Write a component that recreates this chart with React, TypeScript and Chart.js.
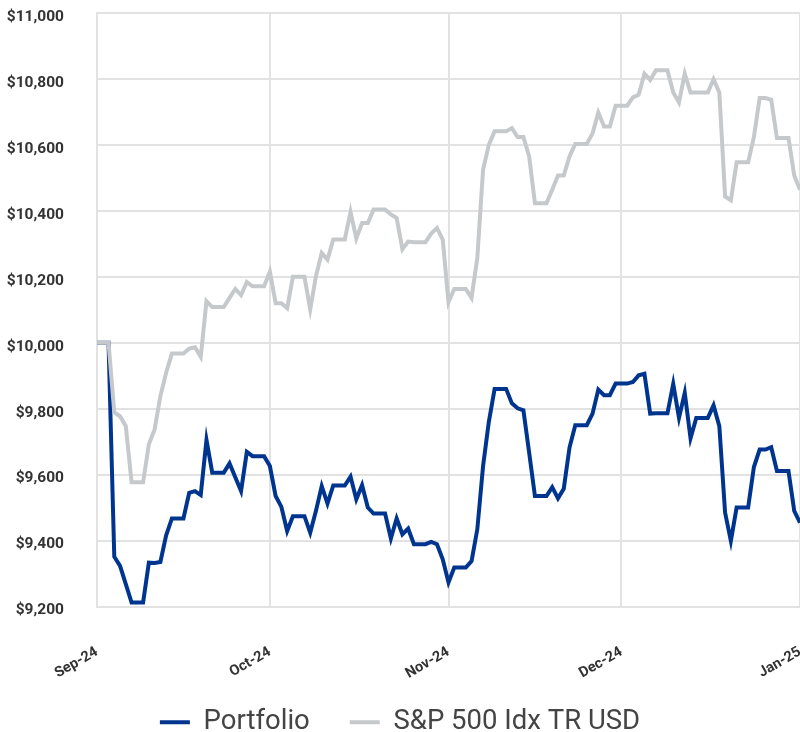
import React, { useEffect, useRef } from 'react';
import { Chart, registerables } from 'chart.js';

Chart.register(...registerables);

// Day index 0 = 31 Aug 2024, one value per calendar day up to 31 Dec 2024 (index 122)
const tickDays = [0, 30, 61, 91, 122];
const tickLabels = ['Sep-24', 'Oct-24', 'Nov-24', 'Dec-24', 'Jan-25'];
const yTicks = [9200, 9400, 9600, 9800, 10000, 10200, 10400, 10600, 10800, 11000];
const seriesNames = ['Portfolio', 'S&P 500 Idx TR USD'];

const portfolio = [
  10000, 10000, 10000, 9351, 9323, 9268, 9212, 9212, 9212, 9333,
  9332, 9335, 9416, 9467, 9467, 9467, 9545, 9550, 9538, 9705,
  9606, 9606, 9606, 9634, 9592, 9550, 9669, 9656, 9656, 9656,
  9626, 9535, 9502, 9429, 9474, 9474, 9474, 9424, 9490, 9565,
  9512, 9567, 9567, 9567, 9594, 9525, 9568, 9500, 9482, 9482,
  9482, 9406, 9467, 9419, 9436, 9389, 9389, 9389, 9396, 9389,
  9343, 9273, 9318, 9318, 9318, 9338, 9434, 9626, 9760, 9860,
  9860, 9860, 9816, 9801, 9795, 9666, 9535, 9535, 9535, 9562,
  9528, 9557, 9682, 9750, 9750, 9750, 9785, 9858, 9841, 9841,
  9876, 9876, 9876, 9881, 9901, 9906, 9785, 9786, 9786, 9786,
  9875, 9772, 9848, 9710, 9772, 9772, 9772, 9810, 9747, 9485,
  9399, 9500, 9500, 9500, 9623, 9676, 9676, 9683, 9611, 9611,
  9611, 9490, 9454,
];

const sp500 = [
  10000, 10000, 10000, 9789, 9777, 9747, 9577, 9577, 9577, 9692,
  9737, 9838, 9909, 9967, 9967, 9967, 9982, 9986, 9957, 10126,
  10108, 10108, 10108, 10136, 10163, 10144, 10184, 10171, 10171, 10171,
  10216, 10120, 10120, 10105, 10200, 10200, 10200, 10101, 10202, 10272,
  10252, 10313, 10313, 10313, 10396, 10316, 10363, 10363, 10404, 10404,
  10404, 10389, 10378, 10284, 10307, 10305, 10305, 10305, 10331, 10348,
  10313, 10123, 10163, 10163, 10163, 10136, 10257, 10525, 10600, 10641,
  10641, 10641, 10651, 10624, 10624, 10565, 10423, 10423, 10423, 10464,
  10507, 10507, 10565, 10603, 10603, 10603, 10635, 10698, 10656, 10656,
  10719, 10719, 10719, 10744, 10752, 10816, 10797, 10826, 10826, 10826,
  10759, 10729, 10816, 10759, 10759, 10759, 10759, 10799, 10759, 10444,
  10432, 10547, 10547, 10547, 10624, 10742, 10742, 10737, 10621, 10621,
  10621, 10507, 10464,
];

const BLUE = '#00358f';
const GRAY = '#c5c9cb';
const GRID = '#e2e2e2';

// let rotated x labels spill below the (fixed-height) x axis box
const unclipXLabels = {
  id: 'unclipXLabels',
  afterLayout(chart: any) {
    const x = chart.scales.x;
    if (x) x.bottom = chart.height;
  },
};

export default function App() {
  const ref = useRef<HTMLCanvasElement>(null);

  useEffect(() => {
    if (!ref.current) return;
    const chart = new Chart(ref.current, {
      type: 'line',
      plugins: [unclipXLabels],
      data: {
        datasets: [
          {
            label: seriesNames[0],
            data: portfolio.map((v, i) => ({ x: i, y: v })),
            borderColor: BLUE,
            backgroundColor: BLUE,
            borderWidth: 4,
            pointRadius: 0,
            tension: 0,
            order: 2,
          },
          {
            label: seriesNames[1],
            data: sp500.map((v, i) => ({ x: i, y: v })),
            borderColor: GRAY,
            backgroundColor: GRAY,
            borderWidth: 4,
            pointRadius: 0,
            tension: 0,
            order: 1,
          },
        ],
      },
      options: {
        animation: false,
        responsive: true,
        maintainAspectRatio: false,
        layout: { padding: { top: 13, left: 0, right: 0, bottom: 0 } },
        scales: {
          x: {
            type: 'linear',
            min: 0,
            max: 122,
            afterBuildTicks: (s: any) => {
              s.ticks = tickDays.map((v) => ({ value: v }));
            },
            afterFit: (s: any) => {
              s.height = 62;
              s.paddingLeft = 0;
              s.paddingRight = 0;
            },
            ticks: {
              autoSkip: false,
              minRotation: 30,
              maxRotation: 30,
              padding: 37,
              color: '#333',
              font: { family: 'Roboto', size: 14.5, weight: 'bold' },
              callback: (v: any) => {
                const k = tickDays.indexOf(Number(v));
                return k >= 0 ? tickLabels[k] : '';
              },
            },
            grid: { color: GRID, lineWidth: 2, drawTicks: false },
            border: { color: GRID, width: 2 },
          },
          y: {
            min: 9200,
            max: 11000,
            afterBuildTicks: (s: any) => {
              s.ticks = yTicks.map((v) => ({ value: v }));
            },
            afterFit: (s: any) => {
              s.width = 97;
              s.paddingTop = 0;
              s.paddingBottom = 0;
            },
            ticks: {
              padding: 33,
              labelOffset: 4,
              color: '#333',
              font: { family: 'Roboto', size: 15.5, weight: 'bold' },
              callback: (v: any) => '$' + Number(v).toLocaleString('en-US'),
            },
            grid: { color: GRID, lineWidth: 2, drawTicks: false },
            border: { color: GRID, width: 2 },
          },
        },
        plugins: {
          legend: {
            position: 'bottom',
            labels: {
              usePointStyle: true,
              pointStyle: 'line',
              pointStyleWidth: 30,
              padding: 40,
              color: '#444',
              font: { family: 'Roboto', size: 27.5 },
              sort: (a: any, b: any) => a.datasetIndex - b.datasetIndex,
            },
          },
          tooltip: { enabled: false },
        },
      },
    });
    return () => chart.destroy();
  }, []);

  return (
    <div style={{ position: 'fixed', left: 0, top: 0, width: 800, height: 746 }}>
      <canvas ref={ref} />
    </div>
  );
}
